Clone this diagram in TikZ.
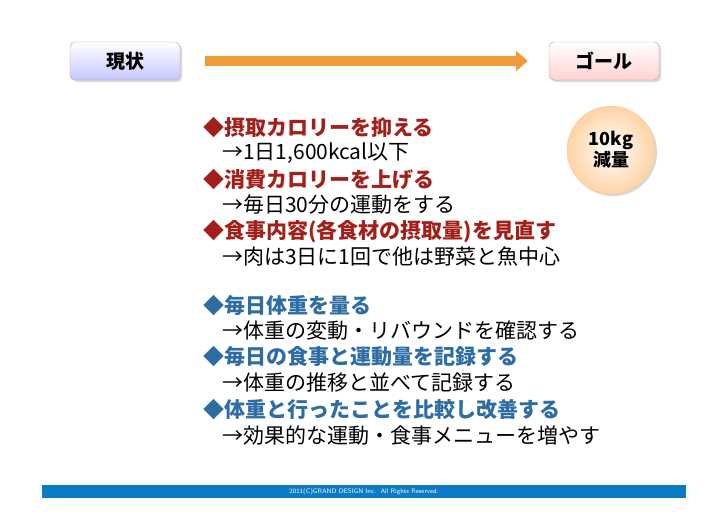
\documentclass[tikz,border=0pt]{standalone}
\usepackage{fontspec}
\newfontfamily\jp{Noto Sans CJK JP}
\usetikzlibrary{shadows,arrows.meta}
\definecolor{red1}{HTML}{A3201A}
\definecolor{blue1}{HTML}{2E6DA4}
\definecolor{barblue}{HTML}{0A7BC4}
\definecolor{arr}{HTML}{F09A3A}
\begin{document}
\begin{tikzpicture}[x=1pt,y=-1pt,
  hdr/.style={draw=gray!70,rounded corners=5pt,minimum width=110pt,minimum height=38pt,font=\jp\bfseries\fontsize{19}{19}\selectfont,drop shadow={opacity=0.3}},
  ln/.style={anchor=west,inner sep=0pt,font=\jp\fontsize{21}{21}\selectfont}]
\useasboundingbox (0,0) rectangle (728,514);
\node[hdr,top color=white,bottom color=blue!22] (now) at (125,61) {現状};
\node[hdr,top color=white,bottom color=red!18] (goal) at (604,61) {ゴール};
\draw[line width=10pt,arr,-{Triangle[length=12pt,width=20pt]},shorten <=25pt,shorten >=21pt] (now.east) -- (goal.west);
\node[circle,draw=orange!40,inner color=white,outer color=orange!35,minimum size=88pt,align=center,font=\jp\bfseries\fontsize{18}{21}\selectfont,drop shadow={opacity=0.3}] (c) at (611,150) {10kg\\減量};
\node[ln,red1] (l1) at (203,128) {\bfseries◆摂取カロリーを抑える};
\node[ln] (l2) at (222,153) {→1日1,600kcal以下};
\node[ln,red1] (l3) at (203,180) {\bfseries◆消費カロリーを上げる};
\node[ln] (l4) at (222,205) {→毎日30分の運動をする};
\node[ln,red1] (l5) at (203,232) {\bfseries◆食事内容(各食材の摂取量)を見直す};
\node[ln] (l6) at (222,257) {→肉は3日に1回で他は野菜と魚中心};
\node[ln,blue1] (l7) at (203,306) {\bfseries◆毎日体重を量る};
\node[ln] (l8) at (222,331) {→体重の変動・リバウンドを確認する};
\node[ln,blue1] (l9) at (203,357) {\bfseries◆毎日の食事と運動量を記録する};
\node[ln] (l10) at (222,382) {→体重の推移と並べて記録する};
\node[ln,blue1] (l11) at (203,410) {\bfseries◆体重と行ったことを比較し改善する};
\node[ln] (l12) at (222,436) {→効果的な運動・食事メニューを増やす};
\fill[barblue] (42,485) rectangle (686,498);
\node[text=white,font=\fontsize{6.5}{7}\selectfont\sffamily] (ft) at (364,491.5) {2011(C)GRAND DESIGN Inc.\ \ All Rights Reserved.};
\end{tikzpicture}
\end{document}
